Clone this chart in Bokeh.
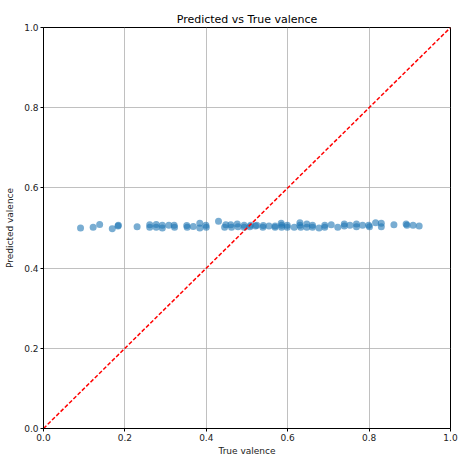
from bokeh.plotting import figure
from bokeh.embed import file_html
from bokeh.resources import INLINE
from bokeh.models import Range1d, FixedTicker, CustomJSTickFormatter

true_valence = [0.091, 0.122, 0.138, 0.169, 0.183, 0.184, 0.230, 0.261, 0.261, 0.277,
                0.277, 0.292, 0.292, 0.308, 0.321, 0.322, 0.352, 0.353, 0.368, 0.384,
                0.384, 0.399, 0.400, 0.430, 0.445, 0.448, 0.460, 0.462, 0.476, 0.478,
                0.493, 0.493, 0.507, 0.509, 0.521, 0.524, 0.539, 0.540, 0.554, 0.569,
                0.569, 0.584, 0.585, 0.585, 0.599, 0.599, 0.616, 0.630, 0.630, 0.632,
                0.647, 0.647, 0.661, 0.661, 0.677, 0.691, 0.691, 0.707, 0.723, 0.739,
                0.739, 0.753, 0.769, 0.769, 0.784, 0.799, 0.801, 0.816, 0.830, 0.830,
                0.861, 0.891, 0.893, 0.908, 0.923]
pred_valence = [0.500, 0.502, 0.509, 0.498, 0.505, 0.507, 0.503, 0.508, 0.502, 0.509,
                0.502, 0.507, 0.500, 0.507, 0.507, 0.502, 0.506, 0.502, 0.504, 0.512,
                0.500, 0.507, 0.502, 0.517, 0.502, 0.508, 0.508, 0.502, 0.510, 0.503,
                0.507, 0.502, 0.503, 0.507, 0.505, 0.507, 0.502, 0.506, 0.505, 0.502,
                0.505, 0.512, 0.507, 0.502, 0.507, 0.502, 0.502, 0.513, 0.507, 0.502,
                0.510, 0.502, 0.507, 0.502, 0.500, 0.507, 0.502, 0.508, 0.502, 0.510,
                0.505, 0.507, 0.510, 0.503, 0.507, 0.507, 0.503, 0.513, 0.512, 0.503,
                0.508, 0.510, 0.507, 0.507, 0.505]
diag = [0.0, 1.0]
ticks = [0.0, 0.2, 0.4, 0.6, 0.8, 1.0]
FONT = "DejaVu Sans"

p = figure(width=458, height=458, output_backend="svg", toolbar_location=None,
           x_range=Range1d(0, 1), y_range=Range1d(0, 1),
           title="Predicted vs True valence",
           min_border_left=43, min_border_right=8, min_border_top=27, min_border_bottom=27)

p.title.align = "center"
p.title.text_font = FONT
p.title.text_font_size = "11px"
p.title.text_font_style = "normal"
p.title.text_color = "black"
p.title.standoff = 4

p.outline_line_color = "black"
p.outline_line_width = 1
p.background_fill_color = "white"
p.border_fill_color = "white"

fmt = CustomJSTickFormatter(code="return tick.toFixed(1);")
for ax in (p.xaxis[0], p.yaxis[0]):
    ax.ticker = FixedTicker(ticks=ticks)
    ax.formatter = fmt
    ax.minor_tick_line_color = None
    ax.major_tick_in = 0
    ax.major_tick_out = 3
    ax.major_tick_line_color = "black"
    ax.axis_line_color = "black"
    ax.major_label_text_font = FONT
    ax.major_label_text_font_size = "9px"
    ax.major_label_text_color = "#222222"
    ax.axis_label_text_font = FONT
    ax.axis_label_text_font_size = "9px"
    ax.axis_label_text_font_style = "normal"
    ax.axis_label_text_color = "#222222"
    ax.major_label_standoff = 2

p.xaxis.major_label_standoff = 2
p.xaxis.axis_label_standoff = 2
p.yaxis.axis_label_standoff = 6
p.xaxis.axis_label = "True valence"
p.yaxis.axis_label = "Predicted valence"

p.grid.grid_line_color = "#b0b0b0"
p.grid.grid_line_alpha = 0.8
p.grid.grid_line_width = 1

p.scatter(true_valence, pred_valence, size=7, color="#1f77b4", alpha=0.6, line_color=None)
p.line(diag, diag, line_color="red", line_dash="4 2", line_width=1.5)

open("out.html", "w").write(file_html(p, INLINE))
